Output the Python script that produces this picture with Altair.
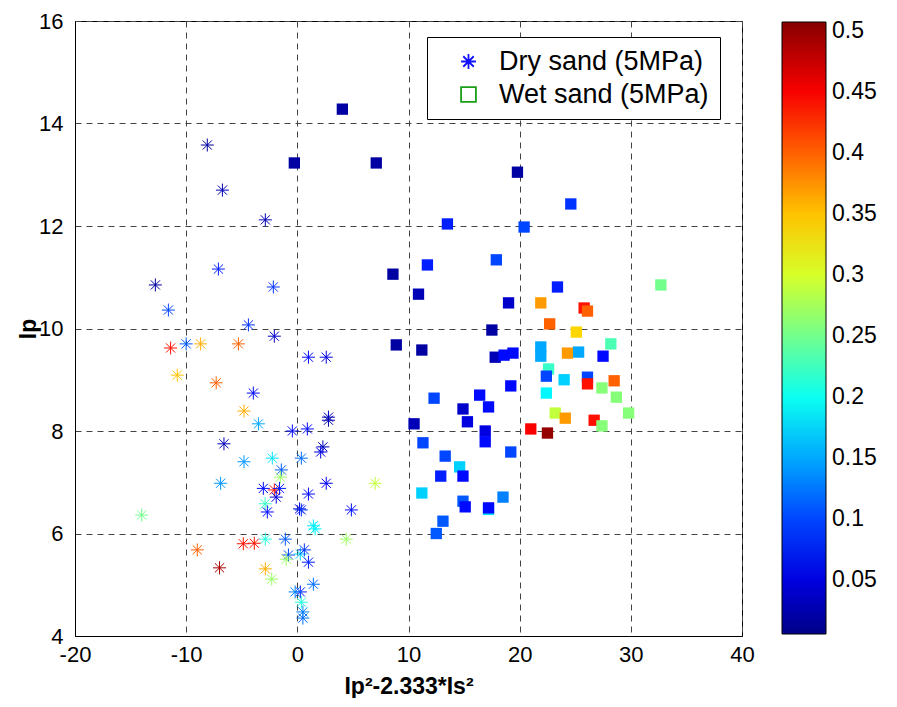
import altair as alt
import pandas as pd

# ---- data ----
dry_x = [-8.1, -6.74, -2.88, -7.1, -12.77, -2.16, -11.6, -4.4, -2.07, -11.4,
         -10.0, -8.7, -5.3, -10.8, -7.3, -3.96, -4.8, -3.5, -0.45, -6.6,
         -4.8, -2.25, 0.36, -1.44, -1.53, -6.9, -3.06, -2.07, -1.6, -1.9,
         -2.9, -2.7, 0.2, 0.36, -14.0, -9.0, -4.86, -3.87, -2.88, -1.08,
         -0.8, -1.0, 0.27, 0.63, 1.0, -7.0, -2.88, -2.3, 1.44, 0.27,
         -0.2, 0.36, 0.5, 0.5, 1.0, 2.6, 2.8, 2.8, 0.9, 2.3,
         2.1, 2.6, 7.0, 1.0, 4.86, 1.44, 1.6, 4.4]
dry_y = [13.58, 12.70, 12.12, 11.16, 10.85, 10.81, 10.36, 10.07, 9.85, 9.62,
         9.70, 9.70, 9.70, 9.09, 8.94, 8.74, 8.39, 8.14, 8.00, 7.75,
         7.40, 7.47, 7.47, 7.24, 7.10, 6.98, 6.88, 6.85, 6.88, 6.71,
         6.58, 6.42, 6.48, 6.46, 6.36, 5.68, 5.80, 5.81, 5.89, 5.89,
         5.58, 5.50, 5.60, 5.68, 5.44, 5.33, 5.31, 5.11, 5.01, 4.86,
         4.86, 4.66, 4.47, 4.35, 9.44, 9.44, 8.21, 8.27, 8.04, 7.69,
         7.59, 6.98, 6.98, 6.77, 6.46, 6.15, 6.09, 5.89]
dry_c = [0.02, 0.03, 0.03, 0.08, 0.02, 0.09, 0.10, 0.09, 0.04, 0.44,
         0.11, 0.36, 0.40, 0.35, 0.40, 0.07, 0.36, 0.15, 0.07, 0.03,
         0.14, 0.18, 0.12, 0.11, 0.27, 0.14, 0.07, 0.44, 0.08, 0.05,
         0.22, 0.07, 0.05, 0.09, 0.25, 0.40, 0.44, 0.44, 0.21, 0.11,
         0.10, 0.27, 0.17, 0.09, 0.08, 0.49, 0.36, 0.27, 0.12, 0.08,
         0.13, 0.21, 0.13, 0.12, 0.07, 0.05, 0.02, 0.03, 0.07, 0.03,
         0.05, 0.06, 0.29, 0.07, 0.07, 0.18, 0.19, 0.27]

wet_x = [4.05, -0.27, 7.1, 19.8, 13.5, 20.4, 11.7, 17.9, 8.6, 10.9,
         24.6, 23.4, 19.0, 21.9, 22.7, 17.5, 8.9, 11.2, 17.8, 18.6,
         19.4, 21.9, 21.9, 24.3, 22.6, 22.4, 24.0, 19.2, 22.4, 16.4,
         12.3, 17.2, 14.9, 23.2, 24.1, 15.3, 10.5, 21.0, 22.5, 16.9,
         16.9, 11.3, 19.2, 13.3, 14.6, 12.9, 14.9, 11.2, 18.5, 14.9,
         15.1, 17.2, 17.2, 13.1, 12.5, 32.7, 25.8, 26.1, 25.1, 25.3,
         28.2, 27.5, 26.1, 26.1, 27.4, 28.5, 28.7, 29.8, 26.7, 27.4]
wet_y = [14.28, 13.23, 13.23, 13.05, 12.04, 11.98, 11.24, 11.34, 11.06, 10.67,
         12.43, 10.81, 10.50, 10.50, 10.09, 9.97, 9.68, 9.58, 9.44, 9.48,
         9.52, 9.64, 9.46, 9.52, 9.21, 9.07, 9.00, 8.88, 8.74, 8.70,
         8.64, 8.47, 8.43, 8.35, 8.25, 8.18, 8.14, 8.04, 7.96, 8.00,
         7.79, 7.77, 7.59, 7.51, 7.30, 7.12, 7.12, 6.79, 6.71, 6.63,
         6.52, 6.47, 6.50, 6.24, 6.00, 10.85, 10.40, 10.34, 9.93, 9.54,
         9.70, 9.46, 9.05, 8.92, 8.84, 8.98, 8.66, 8.35, 8.21, 8.10]
wet_c = [0.02, 0.02, 0.02, 0.02, 0.08, 0.10, 0.08, 0.10, 0.02, 0.03,
         0.09, 0.08, 0.04, 0.37, 0.40, 0.02, 0.02, 0.02, 0.03, 0.07,
         0.07, 0.15, 0.15, 0.37, 0.22, 0.10, 0.17, 0.07, 0.19, 0.07,
         0.10, 0.07, 0.04, 0.29, 0.37, 0.05, 0.03, 0.45, 0.50, 0.05,
         0.07, 0.10, 0.10, 0.10, 0.17, 0.08, 0.07, 0.17, 0.13, 0.11,
         0.07, 0.18, 0.07, 0.11, 0.11, 0.25, 0.44, 0.40, 0.34, 0.15,
         0.23, 0.07, 0.10, 0.44, 0.26, 0.40, 0.26, 0.26, 0.44, 0.26]

legend_labels = ["Dry sand (5MPa)", "Wet sand (5MPa)"]
x_ticks = [-20, -10, 0, 10, 20, 30, 40]
y_ticks = [4, 6, 8, 10, 12, 14, 16]
cbar_ticks = [0.05, 0.1, 0.15, 0.2, 0.25, 0.3, 0.35, 0.4, 0.45, 0.5]

# ---- style: MATLAB jet colormap (64 levels) ----
def jet(t):
    r = min(max(1.5 - abs(4 * t - 3), 0), 1)
    g = min(max(1.5 - abs(4 * t - 2), 0), 1)
    b = min(max(1.5 - abs(4 * t - 1), 0), 1)
    return "#%02x%02x%02x" % (round(r * 255), round(g * 255), round(b * 255))

JET = [jet((i + 0.5) / 64) for i in range(64)]
ASTERISK = ("M-1,0L1,0M0,-1L0,1M-0.7071,-0.7071L0.7071,0.7071"
            "M-0.7071,0.7071L0.7071,-0.7071")
FONT = "Liberation Sans"
CDOM = [0.006, 0.507]

dry = pd.DataFrame({"x": dry_x, "y": dry_y, "c": dry_c})
wet = pd.DataFrame({"x": wet_x, "y": wet_y, "c": wet_c})
leg = pd.DataFrame({"x": [-100, -100], "y": [0, 0], "label": legend_labels})

xs = alt.Scale(domain=[-20, 40], nice=False, zero=False)
ys = alt.Scale(domain=[4, 16], nice=False, zero=False)
X = alt.X("x:Q", scale=xs, axis=alt.Axis(values=x_ticks, title="Ip²-2.333*Is²",
                                        labelExpr="'' + datum.value"))
Y = alt.Y("y:Q", scale=ys, axis=alt.Axis(values=y_ticks, title="Ip",
                                        labelExpr="'' + datum.value",
                                        titleX=-35, titleBaseline="bottom"))

clegend = alt.Legend(type="gradient", orient="none", legendX=707, legendY=1,
                     direction="vertical",
                     gradientLength=612, gradientThickness=44, values=cbar_ticks,
                     format=".2~f", labelFontSize=23, labelFont=FONT,
                     labelColor="black", labelOffset=6, title=None, padding=0,
                     gradientStrokeColor="black", gradientStrokeWidth=1)

squares = alt.Chart(wet).mark_square(size=128, opacity=1).encode(
    x=X, y=Y,
    color=alt.Color("c:Q", scale=alt.Scale(domain=CDOM, range=JET, nice=False,
                                           zero=False), legend=clegend))

stars = alt.Chart(dry).mark_point(shape=ASTERISK, filled=False, size=169,
                                  strokeWidth=1.0, opacity=1).encode(
    x=X, y=Y,
    stroke=alt.Stroke("c:Q", scale=alt.Scale(domain=CDOM, range=JET, nice=False,
                                             zero=False), legend=None))

slegend = alt.Legend(orient="none", legendX=352, legendY=16, title=None,
                     padding=11, symbolOffset=17, labelOffset=17,
                     labelFontSize=27, labelFont=FONT, labelColor="black",
                     labelLimit=400,
                     symbolSize=220, symbolStrokeWidth=1.8, rowPadding=5,
                     fillColor="white", strokeColor="black", cornerRadius=0)

legend_layer = alt.Chart(leg).mark_point(filled=False, clip=True, opacity=1).encode(
    x=X, y=Y,
    shape=alt.Shape("label:N", scale=alt.Scale(domain=legend_labels,
                                               range=[ASTERISK, "square"]),
                    legend=slegend),
    stroke=alt.Stroke("label:N", scale=alt.Scale(domain=legend_labels,
                                                 range=["#1010ff", "#1a9e1a"]),
                      legend=slegend))

chart = alt.layer(squares, stars, legend_layer).resolve_scale(
    stroke="independent", shape="independent").resolve_legend(
    stroke="independent", shape="independent").properties(
    width=667, height=615,
    autosize=alt.AutoSizeParams(type="none"),
    padding={"left": 67, "top": 13, "right": 140, "bottom": 62},
).configure_view(stroke="black", strokeWidth=1).configure_axis(
    grid=True, gridColor="#444", gridDash=[6, 5], gridWidth=1, gridOpacity=1,
    domainColor="black", ticks=False, labelFont=FONT, labelFontSize=22,
    labelColor="black", titleFont=FONT, titleFontSize=23, titleFontWeight="bold",
    titleColor="black", labelFlush=False,
).configure_axisX(labelPadding=8, titlePadding=10).configure_axisY(
    labelPadding=12)

chart.save("out.html", embed_options={"renderer": "svg", "actions": False})
